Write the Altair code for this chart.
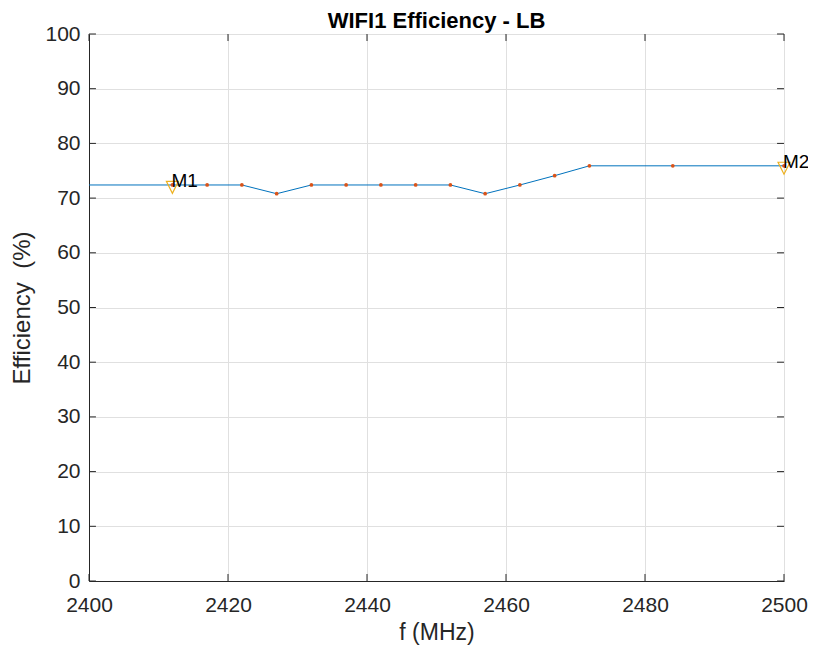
import altair as alt
import pandas as pd

# Data
line_f = [2400, 2412, 2417, 2422, 2427, 2432, 2437, 2442, 2447, 2452, 2457, 2462, 2467, 2472, 2484, 2500]
line_e = [72.4, 72.4, 72.4, 72.4, 70.8, 72.4, 72.4, 72.4, 72.4, 72.4, 70.8, 72.4, 74.1, 75.9, 75.9, 75.9]

dot_f = [2412, 2417, 2422, 2427, 2432, 2437, 2442, 2447, 2452, 2457, 2462, 2467, 2472, 2484, 2500]
dot_e = [72.4, 72.4, 72.4, 70.8, 72.4, 72.4, 72.4, 72.4, 72.4, 70.8, 72.4, 74.1, 75.9, 75.9, 75.9]

marker_f = [2412, 2500]
marker_e = [72.4, 75.9]
marker_lbl = ["M1", "M2"]

x_ticks = [2400, 2420, 2440, 2460, 2480, 2500]
y_ticks = [0, 10, 20, 30, 40, 50, 60, 70, 80, 90, 100]

FONT = "Liberation Sans"
DARK = "#262626"

line_df = pd.DataFrame({"f": line_f, "e": line_e})
dot_df = pd.DataFrame({"f": dot_f, "e": dot_e})
mk_df = pd.DataFrame({"f": marker_f, "e": marker_e, "lbl": marker_lbl})

xs = alt.Scale(domain=[2400, 2500], nice=False, zero=False)
ys = alt.Scale(domain=[0, 100], nice=False)

xaxis = alt.Axis(values=x_ticks, format="d", title="f (MHz)", grid=True, ticks=False, tickSize=0,
                 labelPadding=13, titlePadding=6, labelFontSize=21, titleFontSize=23,
                 labelFont=FONT, titleFont=FONT, labelColor=DARK, titleColor=DARK,
                 titleFontWeight="normal", domainColor=DARK, gridColor="#e0e0e0",
                 labelFlush=False)
yaxis = alt.Axis(values=y_ticks, format="d", title="Efficiency\u00a0\u00a0(%)", grid=True,
                 ticks=False, tickSize=0,
                 labelPadding=9, titlePadding=10, labelFontSize=21, titleFontSize=24,
                 labelFont=FONT, titleFont=FONT, labelColor=DARK, titleColor=DARK,
                 titleFontWeight="normal", domainColor=DARK, gridColor="#e0e0e0",
                 labelFlush=False)

base_line = alt.Chart(line_df).mark_line(color="#0072BD", strokeWidth=1).encode(
    x=alt.X("f:Q", scale=xs, axis=xaxis),
    y=alt.Y("e:Q", scale=ys, axis=yaxis),
)

dots = alt.Chart(dot_df).mark_circle(color="#D95319", size=14, opacity=1).encode(
    x=alt.X("f:Q", scale=xs),
    y=alt.Y("e:Q", scale=ys),
)

TRI = "M-1,-0.6L1,-0.6L0,1.4Z"
tri = alt.Chart(mk_df).mark_point(shape=TRI, filled=False, color="#EDB120",
                                  size=144, strokeWidth=1.2, opacity=1, clip=False).encode(
    x=alt.X("f:Q", scale=xs),
    y=alt.Y("e:Q", scale=ys),
)

txt = alt.Chart(mk_df).mark_text(align="left", baseline="middle", fontSize=19, font=FONT,
                                 color="#000000", dx=-1, dy=-4, clip=False).encode(
    x=alt.X("f:Q", scale=xs),
    y=alt.Y("e:Q", scale=ys),
    text="lbl:N",
)

# inward tick marks on all four sides (positions from tick values through the scales)
xt_len = 1.28
yt_len = 1.0
bt = pd.DataFrame({"t": x_ticks, "a": [0] * len(x_ticks), "b": [xt_len] * len(x_ticks)})
tt = pd.DataFrame({"t": x_ticks, "a": [100 - xt_len] * len(x_ticks), "b": [100] * len(x_ticks)})
lt = pd.DataFrame({"t": y_ticks, "a": [2400] * len(y_ticks), "b": [2400 + yt_len] * len(y_ticks)})
rt = pd.DataFrame({"t": y_ticks, "a": [2500 - yt_len] * len(y_ticks), "b": [2500] * len(y_ticks)})

xtick_layers = [
    alt.Chart(d).mark_rule(color=DARK, strokeWidth=1).encode(
        x=alt.X("t:Q", scale=xs), y=alt.Y("a:Q", scale=ys), y2="b:Q")
    for d in (bt, tt)
]
ytick_layers = [
    alt.Chart(d).mark_rule(color=DARK, strokeWidth=1).encode(
        y=alt.Y("t:Q", scale=ys), x=alt.X("a:Q", scale=xs), x2="b:Q")
    for d in (lt, rt)
]

chart = alt.layer(base_line, *xtick_layers, *ytick_layers, dots, tri, txt).properties(
    width=695,
    height=547,
    autosize=alt.AutoSizeParams(type="none"),
    padding={"left": 81, "top": 26, "right": 24, "bottom": 64},
    title=alt.TitleParams("WIFI1 Efficiency - LB", fontSize=22, font=FONT, fontWeight="bold",
                          color="#000000", anchor="middle", frame="group", offset=-10),
).configure_view(stroke=DARK, strokeWidth=1).configure(background="white")

chart.save("out.html", embed_options={"renderer": "svg", "actions": False})
